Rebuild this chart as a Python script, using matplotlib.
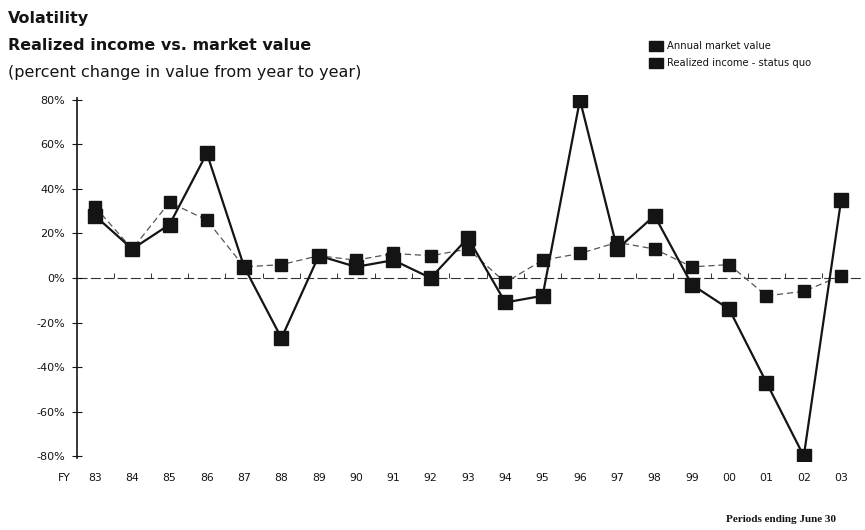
import matplotlib.pyplot as plt

years = ["83", "84", "85", "86", "87", "88", "89", "90", "91", "92", "93",
         "94", "95", "96", "97", "98", "99", "00", "01", "02", "03"]
market_value = [28, 13, 24, 56, 5, -27, 10, 5, 8, 0, 18,
                -11, -8, 80, 13, 28, -3, -14, -47, -80, 35]
realized_income = [32, 13, 34, 26, 5, 6, 10, 8, 11, 10, 13,
                   -2, 8, 11, 16, 13, 5, 6, -8, -6, 1]
y_ticks = [80, 60, 40, 20, 0, -20, -40, -60, -80]

INK = "#141414"


def main():
    fig = plt.figure(figsize=(8.65, 5.3), dpi=100)
    ax = fig.add_axes([77 / 865, 0.131, (862 - 77) / 865, 0.689])

    x = list(range(len(years)))

    # zero line with little year separators
    ax.axhline(0, color="#333333", lw=0.8, ls=(0, (9, 3)), zorder=1)
    ax.vlines([i + 0.5 for i in x[:-1]], 0, 2.2, color="#333333", lw=0.7, zorder=1)

    ax.plot(x, realized_income, color="#555555", lw=0.9, ls=(0, (5, 3)),
            marker="s", ms=9, mfc=INK, mec=INK, zorder=2)
    ax.plot(x, market_value, color=INK, lw=1.6,
            marker="s", ms=10, mfc=INK, mec=INK, zorder=3)

    ax.set_xlim(-0.48, 20.56)
    ax.set_ylim(-82, 82)

    ax.set_yticks(y_ticks)
    ax.set_yticklabels([f"{v}%" for v in y_ticks])
    ax.set_xticks(x)
    ax.set_xticklabels(years)
    ax.tick_params(axis="y", direction="inout", length=7, width=0.8,
                   labelsize=8, pad=5, colors=INK)
    ax.tick_params(axis="x", length=0, labelsize=7.8, pad=9, colors=INK)
    for s in ["top", "right", "bottom"]:
        ax.spines[s].set_visible(False)
    ax.spines["left"].set_color(INK)
    ax.spines["left"].set_linewidth(1.2)
    ax.spines["left"].set_bounds(-81, 81)

    fig.text(58 / 865, 1 - 478 / 530, "FY", fontsize=7.8, color=INK,
             ha="left", va="center")

    # titles
    tkw = dict(fontsize=11.5, fontweight="bold", color=INK, ha="left", va="center",
               family="DejaVu Sans")
    fig.text(8 / 865, 1 - 18 / 530, "Volatility", **tkw)
    fig.text(8 / 865, 1 - 46 / 530, "Realized income vs. market value", **tkw)
    tkw["fontweight"] = "normal"
    fig.text(8 / 865, 1 - 73 / 530, "(percent change in value from year to year)", **tkw)

    # legend
    for yy, label in [(46, "Annual market value"), (63, "Realized income - status quo")]:
        fig.patches.append(plt.Rectangle((649 / 865, 1 - (yy + 5) / 530), 14 / 865, 10 / 530,
                                         transform=fig.transFigure, color=INK))
        fig.text(667 / 865, 1 - yy / 530, label, fontsize=7.2, color=INK,
                 ha="left", va="center")

    fig.text(836 / 865, 1 - 520 / 530, "Periods ending June 30", fontsize=8,
             fontweight="bold", family="Liberation Serif", color=INK,
             ha="right", va="center")

    fig.savefig("out.png", dpi=100, facecolor="white")


if __name__ == "__main__":
    main()
